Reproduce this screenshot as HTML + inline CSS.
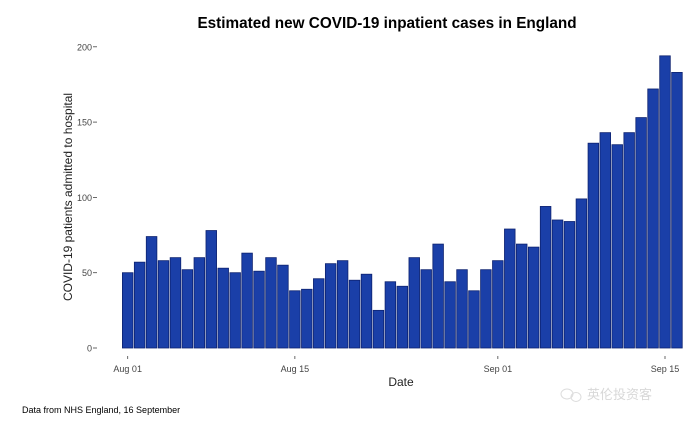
<!DOCTYPE html>
<html><head><meta charset="utf-8"><style>
body{margin:0;background:#fff;}
svg{display:block;font-family:"Liberation Sans",Arial,sans-serif;}
</style></head><body>
<svg id="c" width="700" height="428" viewBox="0 0 700 428">
<text x="387" y="28" text-anchor="middle" font-size="15.3" font-weight="bold" fill="#000">Estimated new COVID-19 inpatient cases in England</text>
<text transform="translate(72,197) rotate(-90)" text-anchor="middle" font-size="12" fill="#222">COVID-19 patients admitted to hospital</text>
<text x="401" y="386" text-anchor="middle" font-size="12" fill="#222">Date</text>
<text x="22" y="413" font-size="9" fill="#000">Data from NHS England, 16 September</text>
<g>
<ellipse cx="567" cy="394" rx="6" ry="5" fill="none" stroke="#ddd"/><ellipse cx="576" cy="397" rx="5" ry="4.5" fill="none" stroke="#ddd"/>
<text x="587" y="399" font-size="13" fill="#d8d8d8" font-family="'Liberation Sans','Noto Sans CJK SC',sans-serif">英伦投资客</text>
</g>
<g id="yaxis"></g>
<g id="xaxis"></g>
<g id="bars"></g>
</svg>
<script>
const values=[50,57,74,58,60,52,60,78,53,50,63,51,60,55,38,39,46,56,58,45,49,25,44,41,60,52,69,44,52,38,52,58,79,69,67,94,85,84,99,136,143,135,143,153,172,194,183];
const yTicks=[0,50,100,150,200];
const xTickIdx=[0,14,31,45];
const xTickLabels=["Aug 01","Aug 15","Sep 01","Sep 15"];
const NS="http://www.w3.org/2000/svg";
const x0=127.7,step=11.94,bw=10.6;
const y=v=>348-v*1.506;
const x=i=>x0+i*step;
function mk(t,a,p){const e=document.createElementNS(NS,t);for(const k in a)e.setAttribute(k,a[k]);p.appendChild(e);return e;}
const ya=document.getElementById('yaxis');
yTicks.forEach(v=>{
 const t=mk('text',{x:92,y:y(v)+3.5,'text-anchor':'end','font-size':9,fill:'#444'},ya);
 t.textContent=v;
 
 
 mk('line',{x1:93,x2:97,y1:y(v),y2:y(v),stroke:'#444','stroke-width':0.8},ya);
});
const xa=document.getElementById('xaxis');
xTickIdx.forEach((d,k)=>{
 mk('line',{x1:x(d),x2:x(d),y1:356,y2:359,stroke:'#444','stroke-width':0.8},xa);
 const t=mk('text',{x:x(d),y:372,'text-anchor':'middle','font-size':9,fill:'#444'},xa);
 t.textContent=xTickLabels[k];
 
 
});
const bg=document.getElementById('bars');
values.forEach((v,i)=>{
 const r=mk('rect',{x:x(i)-bw/2,y:y(v),width:bw,height:348-y(v),fill:'#1a3fa8',stroke:'#0d2270','stroke-width':0.8},bg);
 
 
});
</script>
</body></html>
